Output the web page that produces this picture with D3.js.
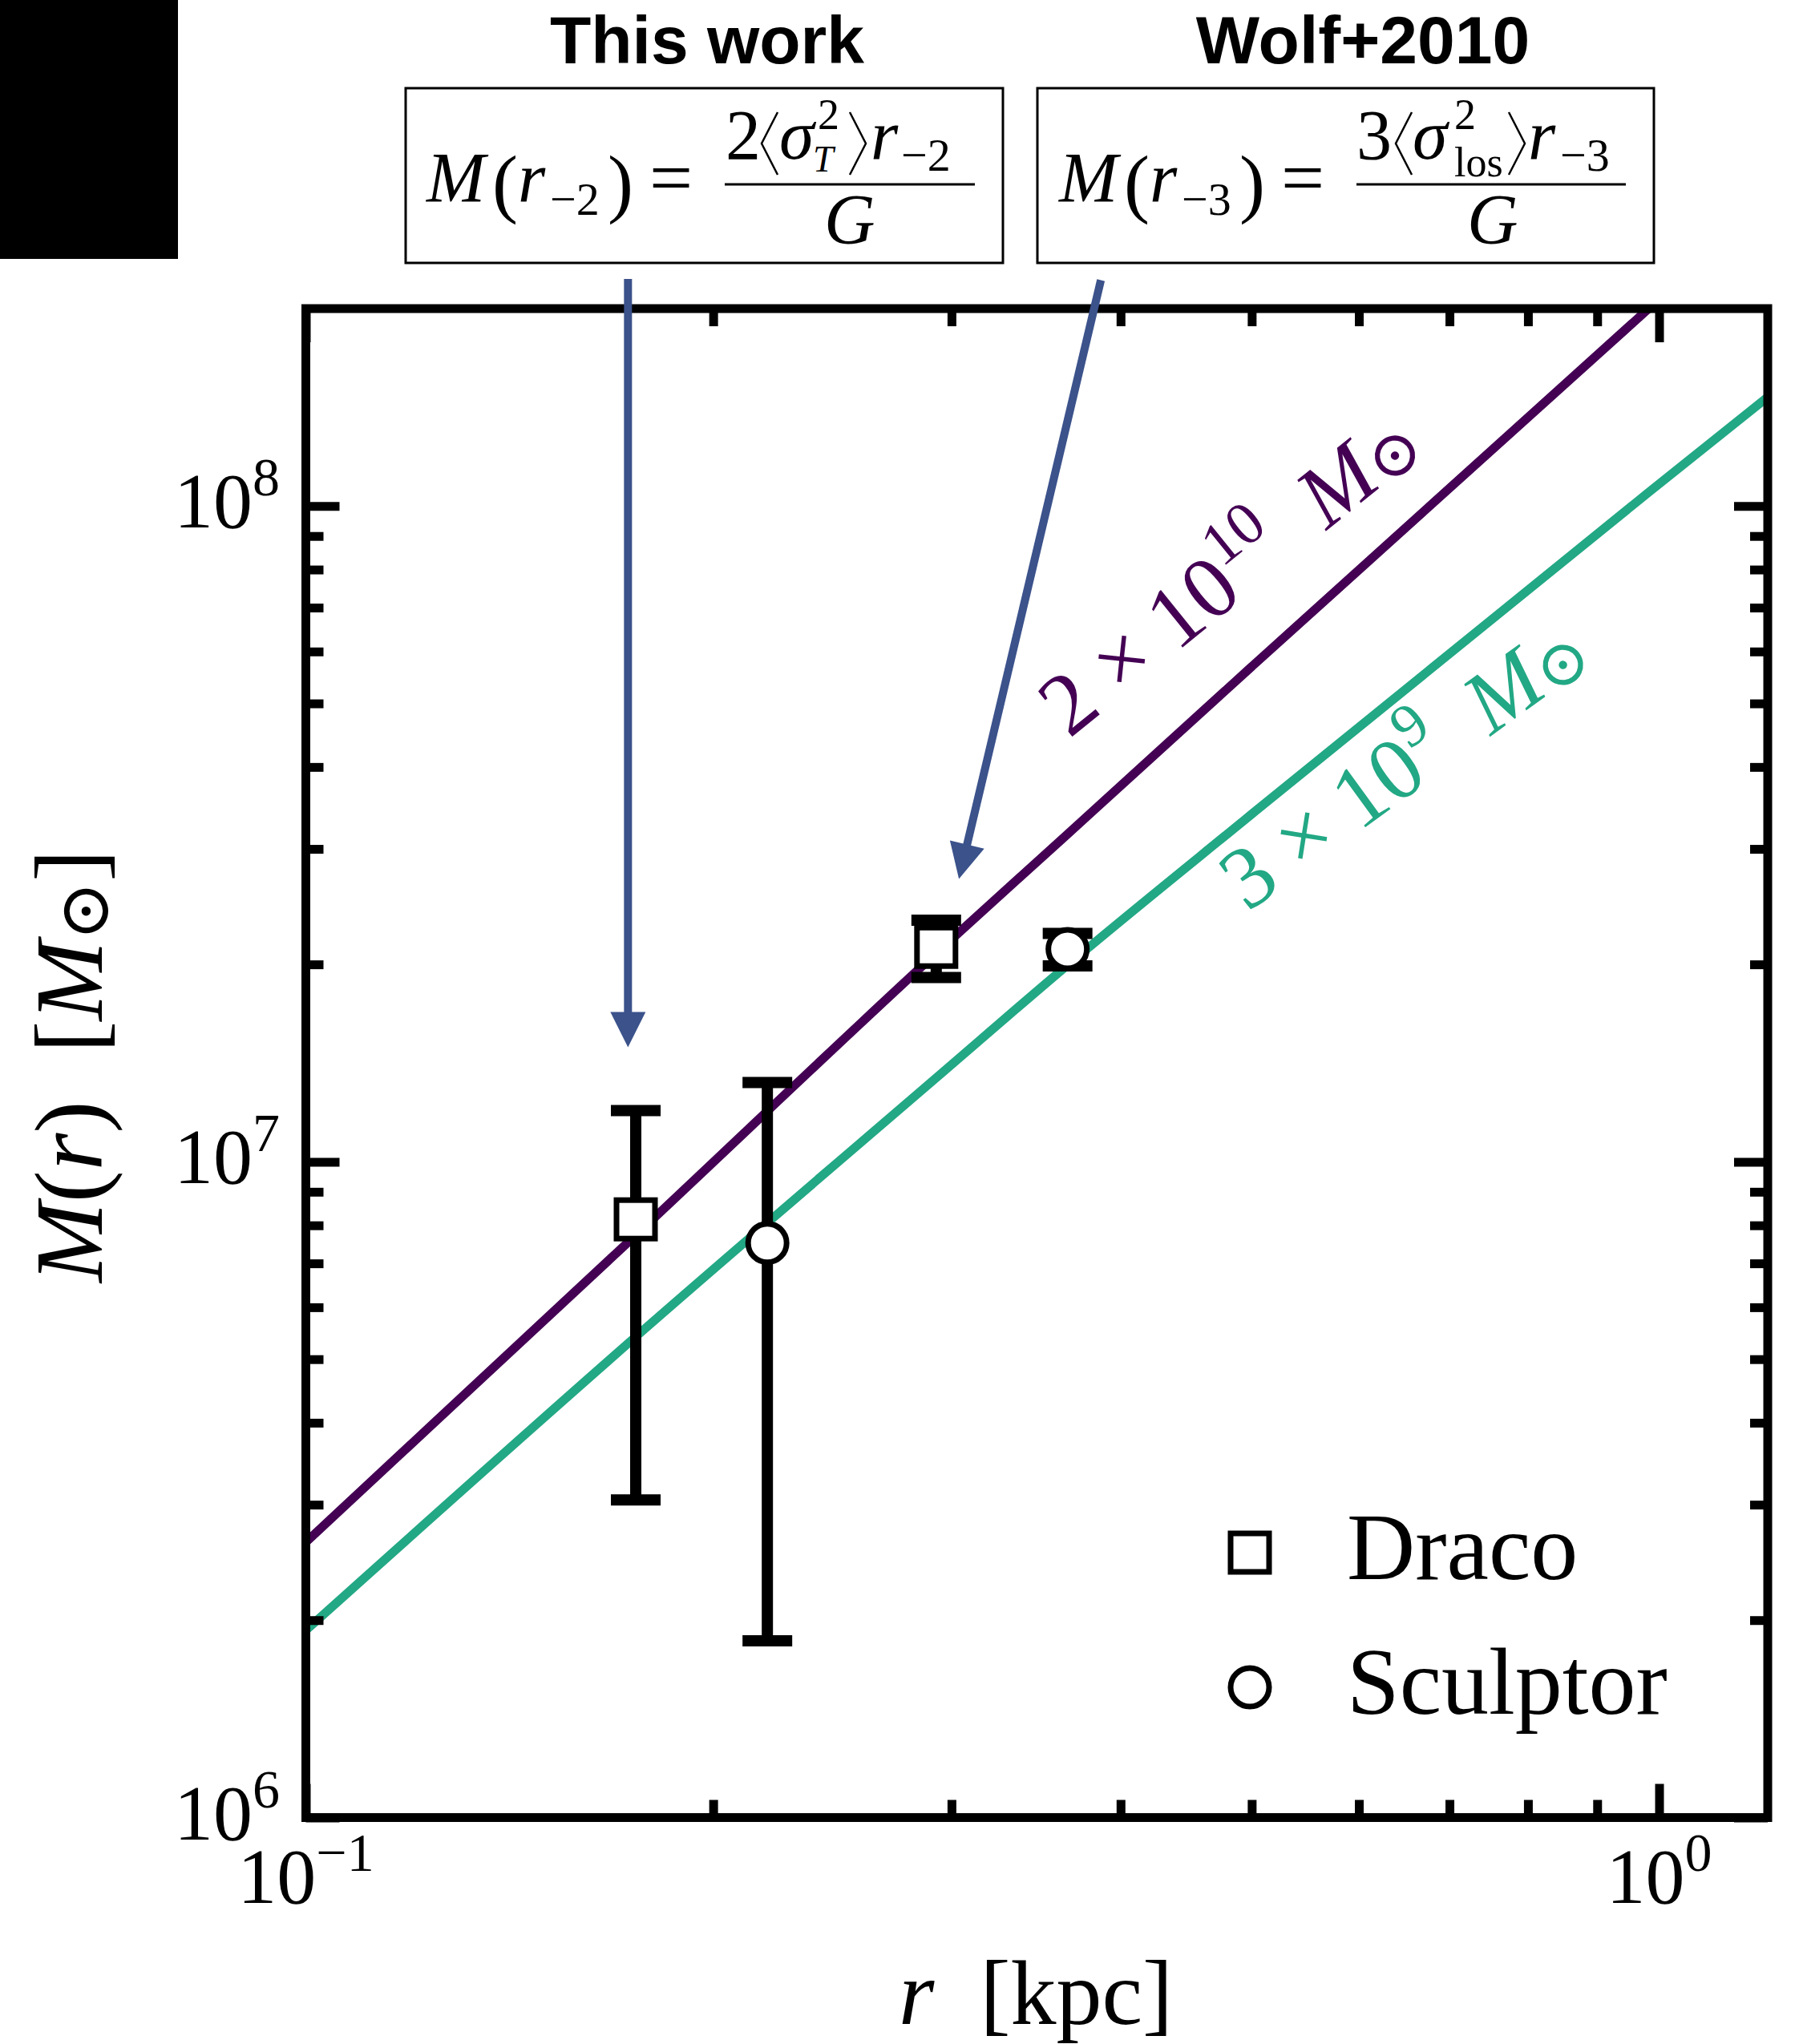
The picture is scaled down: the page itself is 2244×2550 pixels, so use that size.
<!DOCTYPE html>
<html>
<head>
<meta charset="utf-8">
<script src="https://cdn.jsdelivr.net/npm/d3@7"></script>
<style>
  body { margin: 0; background: #fff; }
  svg { display: block; }
</style>
</head>
<body>
<svg id="chart" width="2244" height="2550"></svg>
<script>
// ---- data -------------------------------------------------------------
const galaxies = ["Draco", "Sculptor"];
const markerShapes = ["square", "circle"];

// "This work": enclosed mass at r_-2 (kpc, Msun) with error range
const thisWorkR  = [0.1753, 0.2193];
const thisWorkM  = [8.17e6, 7.52e6];
const thisWorkLo = [3.05e6, 1.86e6];
const thisWorkHi = [1.197e7, 1.321e7];

// Wolf+2010: enclosed mass at r_-3
const wolfR  = [0.2923, 0.3655];
const wolfM  = [2.127e7, 2.11e7];
const wolfLo = [1.91e7, 1.99e7];
const wolfHi = [2.335e7, 2.23e7];

// halo mass profiles M(<r)
const haloR     = [0.1, 0.1753, 0.2923, 0.3655, 0.5, 0.981, 1.203];
const halo2e10M = [2.63e6, 7.73e6, 2.08e7, 3.16e7, 5.69e7, 1.995e8, 2.90e8];
const halo3e9M  = [1.93e6, 5.41e6, 1.343e7, 1.995e7, 3.39e7, 1.047e8, 1.466e8];
const haloMantissa = ["2", "3"];
const haloExponent = ["10", "9"];

// axis ticks
const xMajor = [0.1, 1];
const xMajorExp = ["\u22121", "0"];
const xMinor = [0.2, 0.3, 0.4, 0.5, 0.6, 0.7, 0.8, 0.9];
const yMajor = [1e6, 1e7, 1e8];
const yMajorExp = ["6", "7", "8"];
const yMinor = [2e6, 3e6, 4e6, 5e6, 6e6, 7e6, 8e6, 9e6,
                2e7, 3e7, 4e7, 5e7, 6e7, 7e7, 8e7, 9e7];

// annotation arrows: [r, M] start and tip
const arrowFrom = [[0.173, 2.22e8], [0.3868, 2.21e8]];
const arrowTo   = [[0.173, 1.495e7], [0.3038, 2.70e7]];

// ---- layout -------------------------------------------------------------
const svg = d3.select("#chart");
const L = 381.5, R = 2205, T = 385, B = 2267.5;
const x = d3.scaleLog().domain([0.1, 1.203]).range([L, R]);
const y = d3.scaleLog().domain([1e6, 2e8]).range([B, T]);

const PURPLE = "#440154", GREEN = "#22a884", BLUE = "#3b528b";
const SERIF = "'Liberation Serif', 'DejaVu Serif', serif";
const SANS = "'Liberation Sans', Arial, sans-serif";

svg.append("rect").attr("width", 2244).attr("height", 2550).attr("fill", "#fff");
svg.append("rect").attr("x", 0).attr("y", 0).attr("width", 222).attr("height", 323).attr("fill", "#000");

svg.append("defs").append("clipPath").attr("id", "plotClip")
  .append("rect").attr("x", L).attr("y", T).attr("width", R - L).attr("height", B - T);

// ---- halo curves --------------------------------------------------------
const line = d3.line().x(d => x(d[0])).y(d => y(d[1])).curve(d3.curveMonotoneX);
const curves = [
  { m: halo2e10M, color: PURPLE },
  { m: halo3e9M, color: GREEN }
];
const curveG = svg.append("g").attr("clip-path", "url(#plotClip)");
curves.forEach(c => {
  curveG.append("path")
    .datum(haloR.map((r, i) => [r, c.m[i]]))
    .attr("d", line)
    .attr("fill", "none")
    .attr("stroke", c.color)
    .attr("stroke-width", 11);
});

// ---- axes ---------------------------------------------------------------
function addAxis(axisFn, scale, values, size, transform) {
  const g = svg.append("g").attr("transform", transform)
    .call(axisFn(scale).tickValues(values).tickSize(-size).tickFormat(""));
  g.select(".domain").remove();
  g.selectAll(".tick line").attr("stroke", "#000").attr("stroke-width", 11);
}
addAxis(d3.axisBottom, x, xMajor, 42, `translate(0,${B})`);
addAxis(d3.axisBottom, x, xMinor, 22, `translate(0,${B})`);
addAxis(d3.axisTop, x, xMajor, 42, `translate(0,${T})`);
addAxis(d3.axisTop, x, xMinor, 22, `translate(0,${T})`);
addAxis(d3.axisLeft, y, yMajor, 42, `translate(${L},0)`);
addAxis(d3.axisLeft, y, yMinor, 22, `translate(${L},0)`);
addAxis(d3.axisRight, y, yMajor, 42, `translate(${R},0)`);
addAxis(d3.axisRight, y, yMinor, 22, `translate(${R},0)`);

svg.append("rect").attr("x", L).attr("y", T).attr("width", R - L).attr("height", B - T)
  .attr("fill", "none").attr("stroke", "#000").attr("stroke-width", 11);

function powerLabel(px, py, anchor, exp) {
  const t = svg.append("text").attr("x", px).attr("y", py)
    .attr("text-anchor", anchor).attr("font-family", SERIF).attr("font-size", 98);
  t.append("tspan").text("10");
  t.append("tspan").attr("dy", -40).attr("font-size", 68).text(exp);
}
yMajor.forEach((v, i) => powerLabel(349, y(v) + 27, "end", yMajorExp[i]));
xMajor.forEach((v, i) => powerLabel(x(v), 2374, "middle", xMajorExp[i]));

// axis titles
const yTitle = svg.append("text")
  .attr("transform", `translate(127,1330) rotate(-90)`)
  .attr("text-anchor", "middle").attr("font-family", SERIF).attr("font-size", 120);
yTitle.append("tspan").attr("font-style", "italic").text("M");
yTitle.append("tspan").text("(");
yTitle.append("tspan").attr("font-style", "italic").text("r");
yTitle.append("tspan").text(")\u2002[");
yTitle.append("tspan").attr("font-style", "italic").text("M");
yTitle.append("tspan").attr("font-size", 88).attr("dy", 8).text("\u2299");
yTitle.append("tspan").attr("dy", -8).text("]");

const xTitle = svg.append("text").attr("x", 1292).attr("y", 2525)
  .attr("text-anchor", "middle").attr("font-family", SERIF).attr("font-size", 114);
xTitle.append("tspan").attr("font-style", "italic").text("r");
xTitle.append("tspan").text("\u2002[kpc]");

// ---- curve labels ---------------------------------------------------------
const labelPos = [[1556, 742, -39], [1772, 982, -36]];
curves.forEach((c, i) => {
  const [lx, ly, ang] = labelPos[i];
  const t = svg.append("text")
    .attr("transform", `translate(${lx},${ly}) rotate(${ang})`)
    .attr("text-anchor", "middle").attr("font-family", SERIF)
    .attr("font-size", 110).attr("fill", c.color);
  t.append("tspan").text(`${haloMantissa[i]}\u2005\u00d7\u200510`);
  t.append("tspan").attr("dy", -46).attr("font-size", 76).text(haloExponent[i]);
  t.append("tspan").attr("dy", 46).attr("font-style", "italic").text("\u2002M");
  t.append("tspan").attr("dy", 6).attr("font-size", 80).text("\u2299");
});

// ---- arrows -------------------------------------------------------------
arrowFrom.forEach((p0, i) => {
  const p1 = arrowTo[i];
  const x0 = x(p0[0]), y0 = y(p0[1]), x1 = x(p1[0]), y1 = y(p1[1]);
  const len = Math.hypot(x1 - x0, y1 - y0);
  const ux = (x1 - x0) / len, uy = (y1 - y0) / len;
  const hl = 44, hw = 22;
  const bx = x1 - ux * hl, by = y1 - uy * hl;
  svg.append("line").attr("x1", x0).attr("y1", y0).attr("x2", bx + ux * 2).attr("y2", by + uy * 2)
    .attr("stroke", BLUE).attr("stroke-width", 10);
  svg.append("path")
    .attr("d", `M${x1},${y1} L${bx - uy * hw},${by + ux * hw} L${bx + uy * hw},${by - ux * hw} Z`)
    .attr("fill", BLUE);
});

// ---- error bars + markers --------------------------------------------------
const points = [];
galaxies.forEach((g, i) => {
  points.push({ shape: markerShapes[i], r: thisWorkR[i], m: thisWorkM[i], lo: thisWorkLo[i], hi: thisWorkHi[i] });
  points.push({ shape: markerShapes[i], r: wolfR[i], m: wolfM[i], lo: wolfLo[i], hi: wolfHi[i] });
});

const CAP = 31;
points.forEach(p => {
  const px = x(p.r);
  svg.append("line").attr("x1", px).attr("x2", px).attr("y1", y(p.lo)).attr("y2", y(p.hi))
    .attr("stroke", "#000").attr("stroke-width", 14);
  [p.lo, p.hi].forEach(v => {
    svg.append("line").attr("x1", px - CAP).attr("x2", px + CAP).attr("y1", y(v)).attr("y2", y(v))
      .attr("stroke", "#000").attr("stroke-width", 14);
  });
});

function marker(shape, cx, cy) {
  if (shape === "square") {
    svg.append("rect").attr("x", cx - 24).attr("y", cy - 24).attr("width", 48).attr("height", 48)
      .attr("fill", "#fff").attr("stroke", "#000").attr("stroke-width", 7);
  } else {
    svg.append("circle").attr("cx", cx).attr("cy", cy).attr("r", 24)
      .attr("fill", "#fff").attr("stroke", "#000").attr("stroke-width", 7);
  }
}
points.forEach(p => marker(p.shape, x(p.r), y(p.m)));

// ---- legend ---------------------------------------------------------------
galaxies.forEach((g, i) => {
  const ly = 1937 + i * 168;
  marker(markerShapes[i], 1559, ly);
  svg.append("text").attr("x", 1680).attr("y", ly + 33)
    .attr("font-family", SERIF).attr("font-size", 118).text(g);
});

// ---- estimator titles and formula boxes -----------------------------------------
const titles = [["This work", 882], ["Wolf+2010", 1700]];
titles.forEach(([txt, cx]) => {
  svg.append("text").attr("x", cx).attr("y", 79).attr("text-anchor", "middle")
    .attr("font-family", SANS).attr("font-weight", "bold").attr("font-size", 84).text(txt);
});

[[506, 1251], [1294, 2063]].forEach(([x0, x1]) => {
  svg.append("rect").attr("x", x0).attr("y", 110).attr("width", x1 - x0).attr("height", 218)
    .attr("fill", "#fff").attr("stroke", "#000").attr("stroke-width", 3);
});

function piece(txt, px, py, size, italic) {
  svg.append("text").attr("x", px).attr("y", py).attr("font-family", SERIF)
    .attr("font-size", size).attr("font-style", italic ? "italic" : "normal")
    .attr("fill", "#000").text(txt);
}
function angle(px, open) {
  const d = open ? `M${px + 20},140 L${px},179 L${px + 20},218` : `M${px},140 L${px + 20},179 L${px},218`;
  svg.append("path").attr("d", d).attr("fill", "none").attr("stroke", "#000").attr("stroke-width", 2.5);
}
function fracLine(x0, x1) {
  svg.append("line").attr("x1", x0).attr("x2", x1).attr("y1", 230).attr("y2", 230)
    .attr("stroke", "#000").attr("stroke-width", 3);
}

// M(r_-2) = 2<sigma_T^2> r_-2 / G
piece("M", 532, 251, 88, true);
piece("(", 614, 260, 96, false);
piece("r", 646, 251, 88, true);
piece("\u22122", 686, 268, 58, false);
piece(")", 758, 260, 96, false);
piece("=", 810, 254, 96, false);
fracLine(904, 1216);
piece("2", 905, 198, 88, false);
angle(950, true);
piece("\u03c3", 972, 198, 88, true);
piece("2", 1020, 161, 54, false);
piece("T", 1014, 214, 46, true);
angle(1060, false);
piece("r", 1086, 198, 88, true);
piece("\u22122", 1124, 213, 58, false);
piece("G", 1028, 303, 88, true);

// M(r_-3) = 3<sigma_los^2> r_-3 / G
piece("M", 1321, 251, 88, true);
piece("(", 1402, 260, 96, false);
piece("r", 1434, 251, 88, true);
piece("\u22123", 1474, 268, 58, false);
piece(")", 1546, 260, 96, false);
piece("=", 1598, 254, 96, false);
fracLine(1692, 2028);
piece("3", 1692, 198, 88, false);
angle(1741, true);
piece("\u03c3", 1762, 198, 88, true);
piece("2", 1814, 161, 54, false);
piece("los", 1814, 220, 52, false);
angle(1882, false);
piece("r", 1906, 198, 88, true);
piece("\u22123", 1946, 213, 58, false);
piece("G", 1830, 303, 88, true);
</script>
</body>
</html>
